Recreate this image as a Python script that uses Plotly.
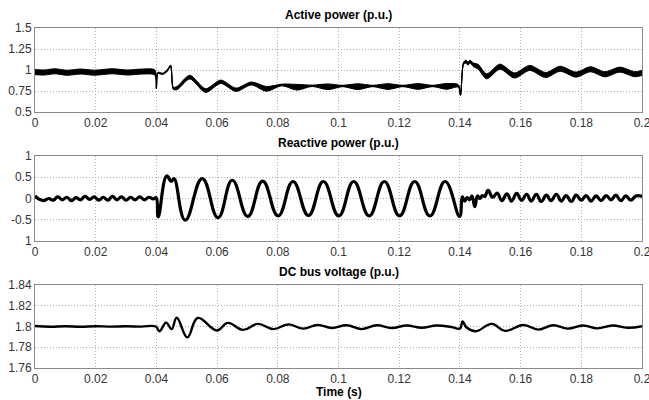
import plotly.graph_objects as go

# ---- Active power: band centre and half-thickness of the ripple (p.u.) ----
t_p = [0.0, 0.003, 0.0065, 0.0105, 0.015, 0.0195, 0.0255, 0.0305, 0.0355, 0.0395,
       0.0400, 0.0405, 0.042, 0.0435, 0.0447, 0.0456, 0.047, 0.051, 0.0562, 0.0612,
       0.0662, 0.0713, 0.0763, 0.0813, 0.0863, 0.0913, 0.0965, 0.1013, 0.1064, 0.1113,
       0.1163, 0.1212, 0.1262, 0.131, 0.1356, 0.1395, 0.1402, 0.1412, 0.142, 0.1427,
       0.1433, 0.1445, 0.146, 0.1488, 0.1532, 0.158, 0.163, 0.1683, 0.173, 0.1783,
       0.183, 0.1878, 0.1927, 0.1975, 0.2]
p_mid = [0.975, 0.97, 0.985, 0.967, 0.982, 0.968, 0.985, 0.97, 0.982, 0.97,
         0.78, 0.965, 0.955, 0.99, 1.05, 0.78, 0.79, 0.915, 0.755, 0.86,
         0.765, 0.84, 0.775, 0.822, 0.795, 0.812, 0.80, 0.81, 0.802, 0.81,
         0.803, 0.81, 0.804, 0.81, 0.805, 0.81, 0.70, 1.08, 1.10, 1.075,
         1.10, 1.06, 1.04, 0.925, 1.04, 0.935, 1.025, 0.94, 1.015, 0.945,
         1.01, 0.948, 1.005, 0.95, 0.965]
p_half = [0.03, 0.03, 0.03, 0.03, 0.03, 0.03, 0.03, 0.03, 0.03, 0.03,
          0.004, 0.008, 0.008, 0.01, 0.01, 0.012, 0.02, 0.022, 0.022, 0.02,
          0.02, 0.018, 0.028, 0.01, 0.034, 0.008, 0.034, 0.008, 0.034, 0.008,
          0.034, 0.008, 0.034, 0.008, 0.034, 0.015, 0.004, 0.012, 0.018, 0.018,
          0.018, 0.022, 0.028, 0.03, 0.03, 0.03, 0.03, 0.03, 0.03, 0.03,
          0.03, 0.03, 0.03, 0.03, 0.03]

# ---- Reactive power (p.u.) ----
t_q = [0.0, 0.0015, 0.003, 0.0045, 0.006, 0.0075, 0.009, 0.0105, 0.012, 0.0135,
       0.015, 0.0165, 0.018, 0.0195, 0.021, 0.0225, 0.024, 0.0255, 0.027, 0.0285,
       0.030, 0.0315, 0.033, 0.0345, 0.036, 0.0375, 0.039, 0.0399, 0.0406, 0.0434,
       0.0449, 0.0458, 0.0495, 0.0551, 0.0603, 0.065, 0.0701, 0.075, 0.0801, 0.085,
       0.0901, 0.095, 0.1001, 0.105, 0.1101, 0.1151, 0.1201, 0.1251, 0.1301, 0.1351,
       0.1399, 0.1408, 0.1416, 0.1424, 0.1432, 0.144, 0.1449, 0.1458, 0.1466, 0.1474,
       0.1482, 0.1493, 0.1508, 0.1523, 0.1538, 0.1555, 0.157, 0.1587, 0.1603, 0.162,
       0.1635, 0.1652, 0.1668, 0.1685, 0.17, 0.1718, 0.1734, 0.175, 0.1767, 0.1783,
       0.18, 0.1816, 0.1832, 0.1849, 0.1865, 0.1882, 0.1898, 0.1914, 0.193, 0.1947,
       0.1963, 0.198, 0.2]
q = [0.06, -0.02, -0.05, 0.0, -0.04, 0.04, -0.03, 0.03, -0.05, 0.02,
     -0.03, 0.05, -0.02, 0.04, -0.04, 0.03, -0.04, 0.05, -0.03, 0.04,
     -0.04, 0.03, -0.03, 0.04, -0.03, 0.03, -0.01, 0.02, -0.43, 0.53,
     0.40, 0.47, -0.51, 0.47, -0.45, 0.43, -0.42, 0.41, -0.41, 0.40,
     -0.40, 0.40, -0.41, 0.40, -0.41, 0.40, -0.41, 0.40, -0.41, 0.40,
     -0.42, 0.04, -0.06, 0.02, -0.03, 0.06, -0.19, 0.06, 0.0, 0.07,
     0.05, 0.19, 0.03, 0.13, -0.05, 0.11, -0.06, 0.12, -0.04, 0.10,
     -0.06, 0.10, -0.07, 0.08, -0.05, 0.10, -0.06, 0.07, -0.07, 0.08,
     -0.04, 0.07, -0.06, 0.06, -0.05, 0.07, -0.03, 0.08, -0.05, 0.06,
     -0.04, 0.06, 0.05]

# ---- DC bus voltage (p.u.) ----
t_v = [0.0, 0.005, 0.01, 0.015, 0.02, 0.025, 0.03, 0.035, 0.0398, 0.041,
       0.0432, 0.045, 0.0467, 0.0502, 0.0536, 0.0599, 0.0635, 0.0686, 0.0734, 0.0786,
       0.0834, 0.0884, 0.0931, 0.0978, 0.1027, 0.1076, 0.1126, 0.1175, 0.1225, 0.1274,
       0.1324, 0.1372, 0.1400, 0.1409, 0.1422, 0.1453, 0.1505, 0.1549, 0.1609, 0.1658,
       0.1708, 0.1755, 0.1805, 0.1853, 0.1903, 0.1952, 0.2]
v_dc = [1.8005, 1.7998, 1.8003, 1.7998, 1.8003, 1.7999, 1.8002, 1.7999, 1.8, 1.7955,
        1.8037, 1.7975, 1.8085, 1.7895, 1.8082, 1.7962, 1.8035, 1.7968, 1.8025, 1.7975,
        1.802, 1.798, 1.8015, 1.7985, 1.8012, 1.7975, 1.8012, 1.7985, 1.801, 1.7988,
        1.801, 1.7995, 1.798, 1.8048, 1.799, 1.7955, 1.8025, 1.7958, 1.8015, 1.797,
        1.8012, 1.798, 1.801, 1.7982, 1.801, 1.7988, 1.8003]

x_ticks = [0, 0.02, 0.04, 0.06, 0.08, 0.1, 0.12, 0.14, 0.16, 0.18, 0.2]
x_labels = ["0", "0.02", "0.04", "0.06", "0.08", "0.1", "0.12", "0.14", "0.16", "0.18", "0.2"]
y1_ticks = [0.5, 0.75, 1, 1.25, 1.5]
y1_labels = ["0.5", "0.75", "1", "1.25", "1.5"]
y2_ticks = [-1, -0.5, 0, 0.5, 1]
y2_labels = ["1", "-0.5", "0", "0.5", "1"]
y3_ticks = [1.76, 1.78, 1.8, 1.82, 1.84]
y3_labels = ["1.76", "1.78", "1.8", "1.82", "1.84"]

titles = ["Active power (p.u.)", "Reactive power (p.u.)", "DC bus voltage (p.u.)"]

p_upper = [m + h for m, h in zip(p_mid, p_half)]
p_lower = [m - h for m, h in zip(p_mid, p_half)]

fig = go.Figure()

# active power band (upper edge, then lower edge filled up to it)
fig.add_trace(go.Scatter(x=t_p, y=p_upper, mode="lines", xaxis="x", yaxis="y",
                         line=dict(color="black", width=1, shape="spline", smoothing=0.8),
                         hoverinfo="skip", showlegend=False))
fig.add_trace(go.Scatter(x=t_p, y=p_lower, mode="lines", xaxis="x", yaxis="y",
                         fill="tonexty", fillcolor="black",
                         line=dict(color="black", width=1, shape="spline", smoothing=0.8),
                         hoverinfo="skip", showlegend=False))
fig.add_trace(go.Scatter(x=t_p, y=p_mid, mode="lines", xaxis="x", yaxis="y",
                         line=dict(color="black", width=1.2, shape="spline", smoothing=0.8),
                         showlegend=False))

fig.add_trace(go.Scatter(x=t_q, y=q, mode="lines", xaxis="x2", yaxis="y2",
                         line=dict(color="black", width=3.2, shape="spline", smoothing=1.3),
                         showlegend=False))

fig.add_trace(go.Scatter(x=t_v, y=v_dc, mode="lines", xaxis="x3", yaxis="y3",
                         line=dict(color="black", width=2.4, shape="spline", smoothing=1.2),
                         showlegend=False))

font_tick = dict(family="Liberation Sans, Arial, sans-serif", size=12, color="#333333")

def x_axis(anchor):
    return dict(domain=[0, 1], anchor=anchor, range=[0, 0.2],
                tickvals=x_ticks, ticktext=x_labels, tickfont=font_tick,
                ticklabeloverflow="allow", automargin=False,
                showline=True, mirror=True, linecolor="#8a8a8a", linewidth=1,
                showgrid=True, gridcolor="#b0b0b0", griddash="1px,2px", gridwidth=1,
                zeroline=False, ticks="", fixedrange=True)

def y_axis(anchor, dom, rng, tv, tt):
    return dict(domain=dom, anchor=anchor, range=rng,
                tickvals=tv, ticktext=tt, tickfont=font_tick,
                ticklabeloverflow="allow", automargin=False,
                showline=True, mirror=True, linecolor="#8a8a8a", linewidth=1,
                showgrid=True, gridcolor="#b0b0b0", griddash="1px,2px", gridwidth=1,
                zeroline=False, ticks="", fixedrange=True)

fig.update_layout(
    width=649, height=400,
    margin=dict(l=35, r=7, t=28, b=32, autoexpand=False),
    paper_bgcolor="white", plot_bgcolor="white",
    xaxis=x_axis("y"),
    yaxis=y_axis("x", [0.7529, 1.0], [0.5, 1.5], y1_ticks, y1_labels),
    xaxis2=x_axis("y2"),
    yaxis2=y_axis("x2", [0.3735, 0.6235], [-1, 1], y2_ticks, y2_labels),
    xaxis3=x_axis("y3"),
    yaxis3=y_axis("x3", [0.0, 0.2441], [1.76, 1.84], y3_ticks, y3_labels),
)

font_title = dict(family="Liberation Sans, Arial, sans-serif", size=12, color="black")
for txt, yp in zip(titles, [1.038, 0.662, 0.2824]):
    fig.add_annotation(text="<b>%s</b>" % txt, x=0.5, y=yp, xref="paper", yref="paper",
                       xanchor="center", yanchor="middle", showarrow=False, font=font_title)
fig.add_annotation(text="<b>Time (s)</b>", x=0.5, y=-0.07, xref="paper", yref="paper",
                   xanchor="center", yanchor="middle", showarrow=False, font=font_title)

fig.write_html("out.html")
